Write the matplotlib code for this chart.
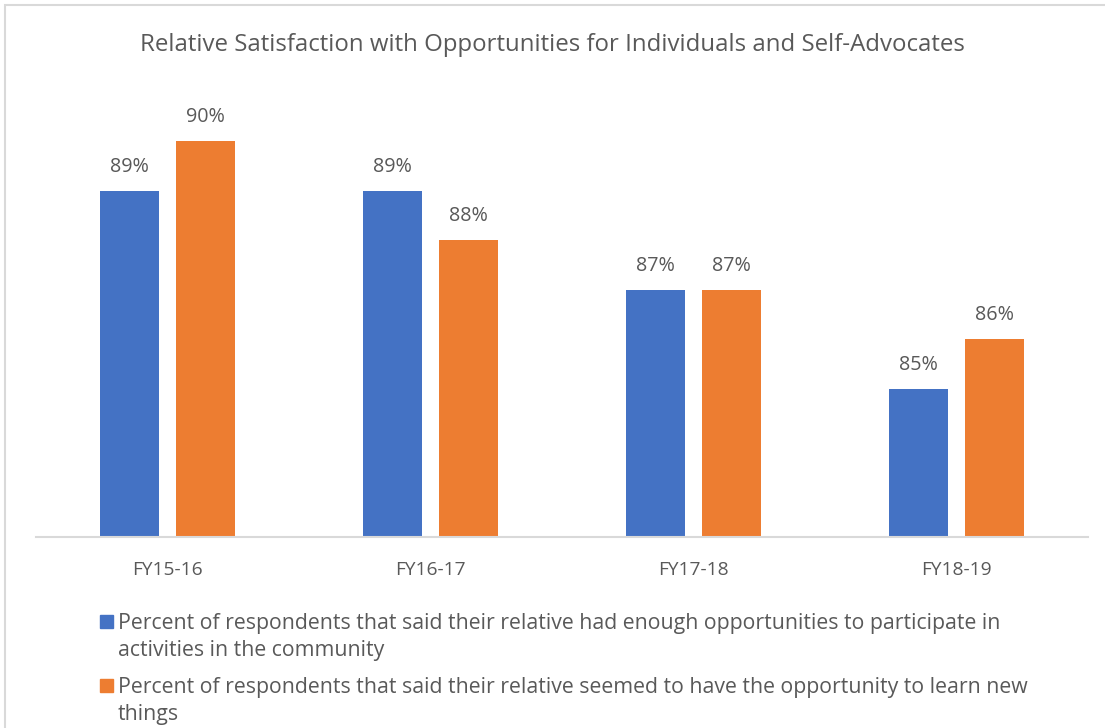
"""Grouped bar chart: relative satisfaction with opportunities."""

import numpy as np
import matplotlib.pyplot as plt
from matplotlib.patches import Rectangle

# ---------------------------------------------------------------------------
# data
# ---------------------------------------------------------------------------
years = ["FY15-16", "FY16-17", "FY17-18", "FY18-19"]
community = [89, 89, 87, 85]
learn_new = [90, 88, 87, 86]
series_labels = [
    "Percent of respondents that said their relative had enough opportunities to participate in\nactivities in the community",
    "Percent of respondents that said their relative seemed to have the opportunity to learn new\nthings",
]

# ---------------------------------------------------------------------------
# style
# ---------------------------------------------------------------------------
COLOR_BLUE = "#4472C4"
COLOR_ORANGE = "#ED7D31"
COLOR_TEXT = "#595959"
COLOR_AXIS = "#D9D9D9"
FONT = ["Open Sans", "DejaVu Sans"]

plt.rcParams["font.family"] = FONT

W, H = 1105, 728
fig = plt.figure(figsize=(W / 100, H / 100), dpi=100)

# outer chart border
fig.patches.append(Rectangle((5 / W, -0.01), 1.2, 1.0 - 5 / H + 0.01,
                             transform=fig.transFigure, fill=False,
                             edgecolor=COLOR_AXIS, linewidth=1.5))

ax = fig.add_axes([36 / W, (H - 537) / H, 1052 / W, 445.5 / H])

x = np.arange(len(years))
width = 0.224
offset = 0.143
b1 = ax.bar(x - offset, community, width, color=COLOR_BLUE)
b2 = ax.bar(x + offset, learn_new, width, color=COLOR_ORANGE)

for bars in (b1, b2):
    for rect in bars:
        v = rect.get_height()
        ax.annotate(f"{v:.0f}%", (rect.get_x() + rect.get_width() / 2, v),
                    xytext=(0, 10), textcoords="offset points",
                    ha="center", va="bottom", fontsize=14.2, color=COLOR_TEXT)

ax.set_ylim(82, 91)
ax.set_xlim(-0.5, 3.5)
ax.set_yticks([])
ax.set_xticks(x)
ax.set_xticklabels(years, fontsize=13.8, color=COLOR_TEXT)
ax.tick_params(axis="x", length=0, pad=17.5)
for side in ("top", "right", "left"):
    ax.spines[side].set_visible(False)
ax.spines["bottom"].set_color(COLOR_AXIS)
ax.spines["bottom"].set_linewidth(1.5)

fig.text(552 / W, 1 - 45 / H,
         "Relative Satisfaction with Opportunities for Individuals and Self-Advocates",
         ha="center", va="center", fontsize=17.3, color=COLOR_TEXT)

# legend: key square aligned with the first text line
legend_tops = [621, 685]
for bars, label, y in zip((b1, b2), series_labels, legend_tops):
    fig.patches.append(Rectangle((100 / W, 1 - (y + 6.5) / H), 13 / W, 13 / H,
                                 transform=fig.transFigure,
                                 color=bars[0].get_facecolor()))
    fig.text(118 / W, 1 - (y - 8) / H, label, ha="left", va="top",
             fontsize=15.3, color=COLOR_TEXT, linespacing=1.38)

fig.savefig("out.png", dpi=100)
